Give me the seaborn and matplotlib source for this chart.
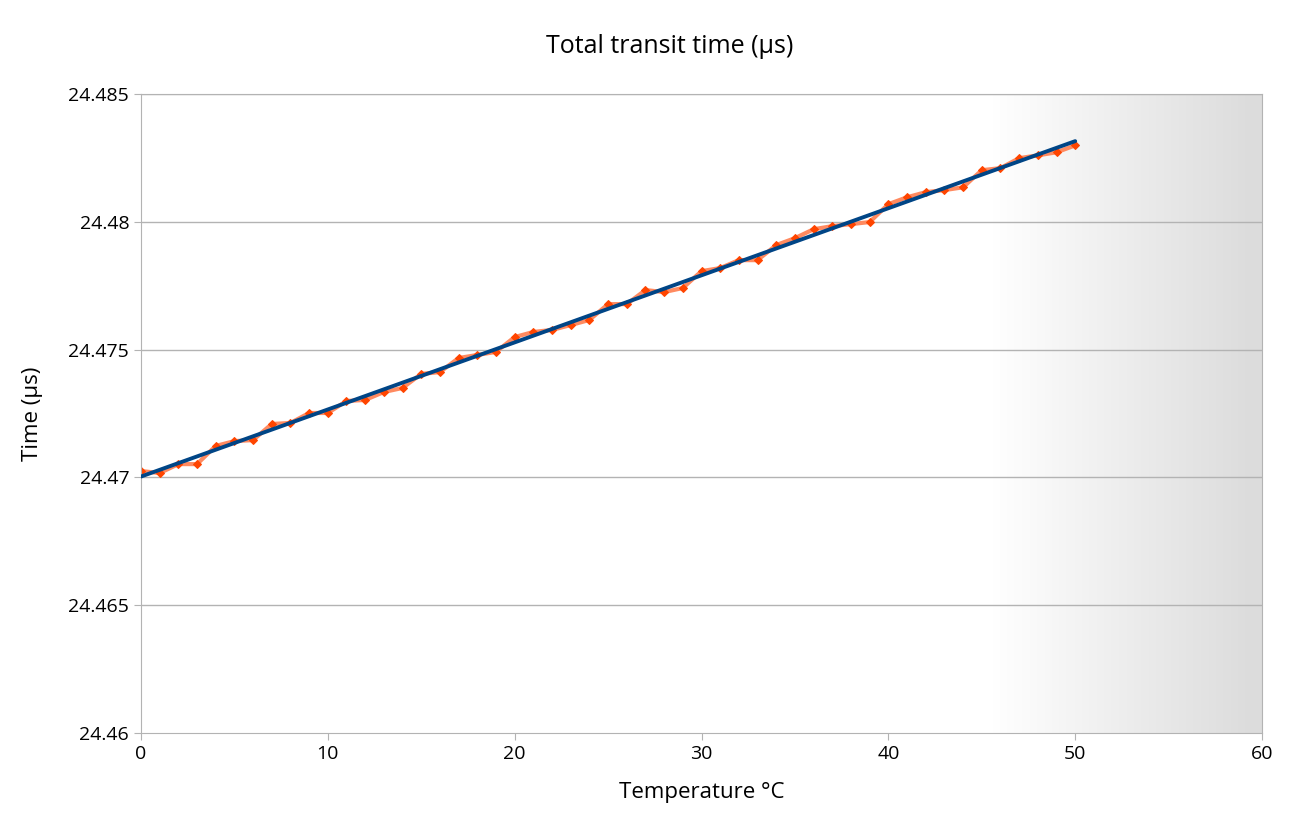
import numpy as np
import pandas as pd
import matplotlib
matplotlib.use("Agg")
import matplotlib.pyplot as plt
import seaborn as sns

temperature = list(range(0, 51))
transit_time = [
    24.47025, 24.47017, 24.47052, 24.47052, 24.47123, 24.47142, 24.47146, 24.47209,
    24.47213, 24.47252, 24.47252, 24.47299, 24.47303, 24.47334, 24.47350, 24.47405,
    24.47412, 24.47467, 24.47479, 24.47491, 24.47549, 24.47569, 24.47577, 24.47596,
    24.47616, 24.47678, 24.47678, 24.47733, 24.47725, 24.47741, 24.47807, 24.47819,
    24.47850, 24.47850, 24.47909, 24.47936, 24.47971, 24.47983, 24.47991, 24.47999,
    24.48069, 24.48096, 24.48116, 24.48124, 24.48135, 24.48202, 24.48210, 24.48249,
    24.48260, 24.48272, 24.48299,
]
y_ticks = [24.46, 24.465, 24.47, 24.475, 24.48, 24.485]
x_ticks = [0, 10, 20, 30, 40, 50, 60]

df = pd.DataFrame({"temp": temperature, "time": transit_time})

sns.set_style("white")
plt.rcParams['font.family'] = ['Open Sans', 'DejaVu Sans']
plt.rcParams['text.color'] = 'black'

fig = plt.figure(figsize=(12.98, 8.32), dpi=100)
ax = fig.add_axes([0.1086, 0.119, 0.8637, 0.768])

# grey fade on the right side of the plot area
grad = np.concatenate([np.zeros(45), np.linspace(0, 1, 15)])[None, :]
ax.imshow(grad, extent=[0, 60, 24.46, 24.485], aspect='auto',
          cmap=matplotlib.colors.LinearSegmentedColormap.from_list('g', ['#ffffff', '#dcdcdc']),
          zorder=0, interpolation='bilinear')

for t in y_ticks[1:]:
    ax.axhline(t, color='#b3b3b3', lw=1, zorder=1)

sns.lineplot(data=df, x='temp', y='time', ax=ax, color='#ff8a60', lw=3,
             marker='D', markersize=4, markerfacecolor='#ff4500',
             markeredgecolor='#ff4500', zorder=2)

coef = np.polyfit(df.temp, df.time, 1)
xs = np.array([0, 50])
ax.plot(xs, np.polyval(coef, xs), color='#004586', lw=2.8, zorder=3)

ax.set_xlim(0, 60)
ax.set_ylim(24.46, 24.485)
ax.set_xticks(x_ticks)
ax.set_yticks(y_ticks)
ax.set_yticklabels(['24.46', '24.465', '24.47', '24.475', '24.48', '24.485'])
ax.tick_params(labelsize=14, length=5, direction='out', color='#b3b3b3',
               labelcolor='black', left=True, bottom=True)
for s in ax.spines.values():
    s.set_color('#b3b3b3')
ax.set_xlabel('Temperature °C', fontsize=16, labelpad=14, color='black')
ax.set_ylabel('Time (µs)', fontsize=16, labelpad=18, color='black')
fig.text(0.516, 0.944, 'Total transit time (µs)', fontsize=18, ha='center',
         va='center', color='black')

fig.savefig('out.png', dpi=100)
